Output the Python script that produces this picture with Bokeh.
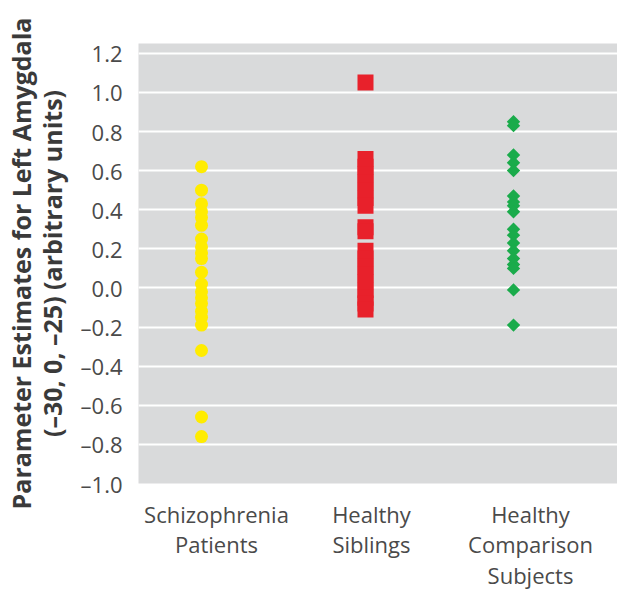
from bokeh.plotting import figure
from bokeh.models import FixedTicker, CustomJSTickFormatter
from bokeh.embed import file_html
from bokeh.resources import INLINE
import math

# ---- data ----
groups = ["Schizophrenia\nPatients", "Healthy\nSiblings", "Healthy\nComparison\nSubjects"]
group_x = [63, 227, 375]          # horizontal position of each group's marks (data units)
label_x = [78, 233, 392]          # position of each group's tick label (data units)

schizophrenia = [0.62, 0.50, 0.43, 0.39, 0.36, 0.32, 0.25, 0.21, 0.18, 0.15, 0.08,
                 0.02, -0.02, -0.05, -0.08, -0.12, -0.15, -0.19, -0.32, -0.66, -0.76]
siblings = [1.05, 0.66, 0.62, 0.58, 0.54, 0.50, 0.46, 0.42, 0.31, 0.29,
            0.19, 0.15, 0.11, 0.07, 0.03, -0.01, -0.05, -0.08, -0.11]
comparison = [0.85, 0.83, 0.68, 0.64, 0.60, 0.47, 0.44, 0.42, 0.39, 0.30, 0.27,
              0.23, 0.19, 0.15, 0.12, 0.10, -0.01, -0.19]

y_ticks = [-1.0, -0.8, -0.6, -0.4, -0.2, 0.0, 0.2, 0.4, 0.6, 0.8, 1.0, 1.2]

FONT = "Open Sans"

p = figure(frame_width=479, frame_height=440, x_range=(0, 479), y_range=(-1.0, 1.25),
           output_backend="svg", toolbar_location=None,
           min_border_left=130, min_border_right=0, min_border_top=43, min_border_bottom=100)

p.background_fill_color = "#d9dadb"
p.border_fill_color = "white"
p.outline_line_color = None

# grid
p.xgrid.visible = False
p.ygrid.ticker = FixedTicker(ticks=y_ticks)
p.ygrid.grid_line_color = "white"
p.ygrid.grid_line_width = 2

# marks
p.scatter([group_x[0]] * len(schizophrenia), schizophrenia, marker="circle", size=13,
          fill_color="#ffec00", line_color=None)
p.scatter([group_x[1]] * len(siblings), siblings, marker="square", size=16,
          fill_color="#e8212b", line_color=None)
p.scatter([group_x[2]] * len(comparison), comparison, marker="square", size=9.5,
          angle=math.pi / 4, fill_color="#1aab4b", line_color=None)

# y axis
ya = p.yaxis[0]
ya.ticker = FixedTicker(ticks=y_ticks)
ya.formatter = CustomJSTickFormatter(code="return tick.toFixed(1).replace('-', '\u2013');")
ya.axis_line_color = None
ya.major_tick_line_color = None
ya.minor_tick_line_color = None
ya.major_label_text_font = FONT
ya.major_label_text_font_size = "22px"
ya.major_label_text_color = "#4a4a4a"
ya.major_label_standoff = 10
ya.axis_label = "Parameter Estimates for Left Amygdala\n(\u201330, 0, \u201325) (arbitrary units)"
ya.axis_label_text_font = FONT
ya.axis_label_text_font_size = "25px"
ya.axis_label_text_font_style = "bold"
ya.axis_label_text_color = "#3a3a3a"
ya.axis_label_text_line_height = 0.9
ya.axis_label_standoff = 9

# x axis
xa = p.xaxis[0]
xa.ticker = FixedTicker(ticks=label_x)
xa.major_label_overrides = {label_x[i]: groups[i] for i in range(len(groups))}
xa.axis_line_color = None
xa.major_tick_line_color = None
xa.minor_tick_line_color = None
xa.major_label_text_font = FONT
xa.major_label_text_font_size = "22px"
xa.major_label_text_color = "#4a4a4a"
xa.major_label_text_line_height = 1.02
xa.major_label_standoff = 9

open("out.html", "w").write(file_html(p, INLINE))
